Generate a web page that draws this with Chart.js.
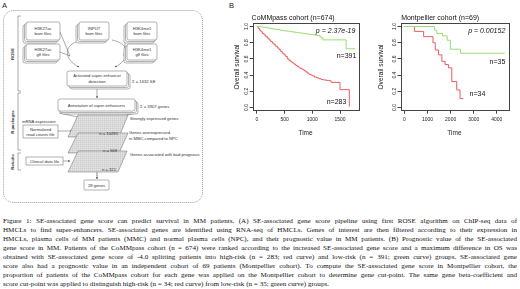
<!DOCTYPE html>
<html>
  <head>
    <title>SE-associated gene score</title>
    <script src="https://cdn.jsdelivr.net/npm/chart.js"></script>
    <style>
      body {
        margin: 0;
        width: 520px;
        height: 289px;
        overflow: hidden;
        background: #fff;
        font-family: "Liberation Sans", Arial, sans-serif;
      }
      .abs {
        position: absolute;
      }
      #flow text {
        font-family: "Liberation Sans", Arial, sans-serif;
        font-size: 4.2px;
        fill: #333;
      }
      #caption {
        position: absolute;
        left: 3px;
        top: 216.5px;
        width: 514px;
        font-family: "Liberation Serif", "Times New Roman", serif;
        font-size: 7.1px;
        color: #111;
      }
      #caption div {
        height: 9px;
        line-height: 9px;
        text-align: justify;
        text-align-last: justify;
        overflow: hidden;
      }
      #caption div.last {
        text-align-last: left;
      }
    </style>
  </head>
  <body>
    <svg id="flow" class="abs" style="left:0;top:0" width="240" height="210"></svg>
    <div class="abs" style="left:228px;top:10px"><canvas id="km1" width="134" height="127"></canvas></div>
    <div class="abs" style="left:372px;top:10px"><canvas id="km2" width="138" height="127"></canvas></div>
    <div id="caption">
      <div>Figure 1: SE-associated gene score can predict survival in MM patients. (A) SE-associated gene score pipeline using first ROSE algorithm on ChIP-seq data of</div>
      <div>HMCLs to find super-enhancers. SE-associated genes are identified using RNA-seq of HMCLs. Genes of interest are then filtered according to their expression in</div>
      <div>HMCLs, plasma cells of MM patients (MMC) and normal plasma cells (NPC), and their prognostic value in MM patients. (B) Prognostic value of the SE-associated</div>
      <div>gene score in MM. Patients of the CoMMpass cohort (n = 674) were ranked according to the increased SE-associated gene score and a maximum difference in OS was</div>
      <div>obtained with SE-associated gene score of -4.0 splitting patients into high-risk (n = 283; red curve) and low-risk (n = 391; green curve) groups. SE-associated gene</div>
      <div>score also had a prognostic value in an independent cohort of 69 patients (Montpellier cohort). To compute the SE-associated gene score in Montpellier cohort, the</div>
      <div>proportion of patients of the CoMMpass cohort for each gene was applied on the Montpellier cohort to determine gene cut-point. The same gene beta-coefficient and</div>
      <div class="last">score cut-point was applied to distinguish high-risk (n = 34; red curve) from low-risk (n = 35; green curve) groups.</div>
    </div>
    <script>
      // CoMMpass cohort, Kaplan-Meier steps (time in days, survival)
      const commpassLowTime = [0, 60, 120, 180, 240, 300, 360, 420, 480, 540, 600, 660, 720, 780, 840, 900, 960, 1020, 1080, 1130, 1160, 1190, 1610, 1775];
      const commpassLowSurv = [1, 0.995, 0.99, 0.983, 0.975, 0.968, 0.962, 0.955, 0.948, 0.942, 0.936, 0.93, 0.925, 0.918, 0.912, 0.906, 0.9, 0.895, 0.89, 0.88, 0.86, 0.835, 0.725, 0.725];
      const commpassHighTime = [0, 25, 50, 75, 100, 130, 160, 190, 220, 250, 280, 310, 340, 370, 400, 430, 460, 490, 520, 550, 580, 610, 640, 670, 700, 730, 760, 790, 820, 850, 880, 910, 940, 970, 1000, 1040, 1080, 1120, 1160, 1200, 1250, 1300, 1340, 1500, 1668];
      const commpassHighSurv = [1, 0.975, 0.955, 0.935, 0.915, 0.895, 0.875, 0.855, 0.835, 0.815, 0.795, 0.775, 0.755, 0.735, 0.715, 0.69, 0.67, 0.65, 0.63, 0.6, 0.58, 0.565, 0.55, 0.535, 0.52, 0.505, 0.49, 0.48, 0.47, 0.455, 0.44, 0.425, 0.41, 0.4, 0.39, 0.375, 0.365, 0.355, 0.345, 0.34, 0.335, 0.33, 0.31, 0.22, 0.01];

      // Montpellier cohort
      const montLowTime = [0, 1300, 1400, 1650, 1850, 1990, 2430, 4350];
      const montLowSurv = [1, 0.957, 0.914, 0.885, 0.83, 0.72, 0.67, 0.67];
      const montHighTime = [0, 430, 830, 1234, 1333, 1476, 1620, 1760, 1906, 2050, 2265, 2408, 2550];
      const montHighSurv = [1, 0.94, 0.875, 0.8, 0.71, 0.65, 0.57, 0.53, 0.49, 0.32, 0.216, 0.11, 0.11];

      const commpassTicks = [0, 500, 1000, 1500];
      const montTicks = [0, 1000, 2000, 3000, 4000];
      const survTicks = [0, 0.2, 0.4, 0.6, 0.8, 1.0];

      const RED = "rgb(234, 92, 100)";
      const GREEN = "rgb(152, 222, 112)";

      // ---- panel A flowchart (plain svg) ----
      let svg = `<defs>
        <pattern id="grid" width="2" height="2" patternUnits="userSpaceOnUse">
          <rect width="2" height="2" fill="#e6e6e6"/>
          <path d="M0 0.5H2M0.5 0V2" stroke="#c2c2c2" stroke-width="0.4"/>
        </pattern>
        <marker id="arr" viewBox="0 0 4 4" refX="3.5" refY="2" markerWidth="4" markerHeight="4" orient="auto">
          <path d="M0 0L4 2L0 4z" fill="#444"/>
        </marker>
      </defs>
      <text x="2" y="8" style="font-size:7.5px;fill:#222">A</text>
      <text x="229" y="8" style="font-size:7.5px;fill:#222">B</text>
      <rect x="3.5" y="10.5" width="199" height="192" rx="10" fill="none" stroke="#777" stroke-width="0.7" stroke-dasharray="1 1"/>`;

      function stack(x, y, w, h, dx, dy, lines) {
        for (let k = 2; k >= 0; k--) {
          svg += `<rect x="${x + dx * k}" y="${y + dy * k}" width="${w}" height="${h}" rx="2" fill="#fff" stroke="#666" stroke-width="0.5"/>`;
        }
        lines.forEach((t, i) => {
          const ty = y + h / 2 + (i - (lines.length - 1) / 2) * 5.4 + 1.5;
          svg += `<text x="${x + w / 2}" y="${ty}" text-anchor="middle">${t}</text>`;
        });
      }

      // arcs and connectors first so boxes sit on top
      svg += `<g fill="none" stroke="#555" stroke-width="0.5">
        <path d="M82 40 C62 44 64 60 79 67" marker-end="url(#arr)"/>
        <path d="M112 40 C132 44 130 60 115 67" marker-end="url(#arr)"/>
        <path d="M60 32 L70 56"/><path d="M60 52 L70 56"/>
        <path d="M126 32 L124 56"/><path d="M126 52 L124 56"/>
        <path d="M97 89 V98" marker-end="url(#arr)"/>
        <path d="M59 113 L97 121 L137 113"/>
        <path d="M97 113 V179" stroke-dasharray="1 1"/>
        <path d="M58 131 H72" marker-end="url(#arr)"/>
        <path d="M63 161 H70" marker-end="url(#arr)"/>
        <path d="M18 16 V91 M18 16 H21 M18 91 H21"/>
        <path d="M18 93 V150 M18 93 H21 M18 150 H21"/>
        <path d="M18 153 V170 M18 153 H21 M18 170 H21"/>
      </g>`;

      stack(26, 22, 34, 18, -1.5, 1.5, ["H3K27ac", "bam files"]);
      stack(79, 22, 30, 18, -1.5, 1.5, ["INPUT", "bam files"]);
      stack(127, 22, 30, 18, -1.5, 1.5, ["H3K4me1", "bam files"]);
      stack(26, 44, 34, 16, -1.5, 1.5, ["H3K27ac", "gff files"]);
      stack(127, 44, 30, 16, -1.5, 1.5, ["H3K4me1", "gff files"]);
      stack(67, 71, 60, 15, 1.5, 1.5, ["Activated super-enhancer", "detection"]);
      stack(58, 99, 77, 12, 1.5, 1.5, ["Annotation of super-enhancers"]);

      svg += `<text x="132" y="83">\u03A3 = 1632 SE</text>
        <text x="140" y="108">\u03A3 = 3907 genes</text>
        <polygon points="78,115 128,115 119,137 68,137" fill="url(#grid)" stroke="#666" stroke-width="0.5"/>
        <polygon points="78,133 128,133 119,153 68,153" fill="url(#grid)" stroke="#666" stroke-width="0.5"/>
        <polygon points="78,151 127,151 118,172 68,172" fill="url(#grid)" stroke="#666" stroke-width="0.5"/>
        <text x="118" y="135" text-anchor="end">n = 10281</text>
        <text x="117" y="151.5" text-anchor="end">n = 568</text>
        <text x="116" y="170.5" text-anchor="end">n = 321</text>
        <text x="130" y="119.5">Strongly expressed genes</text>
        <text x="129" y="133.5">Genes overexpressed</text>
        <text x="129" y="139.5">in MMC compared to NPC</text>
        <text x="130" y="155.5">Genes associated with bad prognosis</text>
        <text x="22" y="123">mRNA expression</text>
        <rect x="23" y="125" width="35" height="13" fill="#fff" stroke="#666" stroke-width="0.5"/>
        <text x="40.5" y="130.5" text-anchor="middle">Normalized</text>
        <text x="40.5" y="136" text-anchor="middle">read counts file</text>
        <rect x="26" y="157" width="37" height="8" fill="#fff" stroke="#666" stroke-width="0.5"/>
        <text x="44.5" y="162.5" text-anchor="middle">Clinical data file</text>
        <path d="M97 172 V179" stroke="#555" stroke-width="0.5" marker-end="url(#arr)"/>
        <rect x="84" y="180" width="25" height="10" rx="1" fill="#fff" stroke="#666" stroke-width="0.5"/>
        <text x="96.5" y="186.5" text-anchor="middle">28 genes</text>
        <text transform="translate(13.5 54) rotate(-90)" text-anchor="middle" style="font-weight:bold">ROSE</text>
        <text transform="translate(13.5 122) rotate(-90)" text-anchor="middle" style="font-weight:bold">R packages</text>
        <text transform="translate(13.5 162) rotate(-90)" text-anchor="middle" style="font-weight:bold">Rstudio</text>`;
      document.getElementById("flow").innerHTML = svg;

      // ---- panel B survival curves ----
      Chart.defaults.font.family = '"Liberation Sans", Arial, sans-serif';
      Chart.defaults.color = "#222";

      const boxPlugin = {
        id: "rbox",
        afterDraw(chart) {
          const a = chart.chartArea;
          const ctx = chart.ctx;
          ctx.save();
          ctx.strokeStyle = "#444";
          ctx.lineWidth = 1;
          ctx.strokeRect(Math.round(a.left) + 0.5, Math.round(a.top) + 0.5, Math.round(a.right - a.left), Math.round(a.bottom - a.top));
          ctx.restore();
        },
      };

      const notesPlugin = {
        id: "notes",
        afterDatasetsDraw(chart, args, opts) {
          const { ctx, scales } = chart;
          ctx.save();
          ctx.fillStyle = "#111";
          ctx.textBaseline = "middle";
          (opts.items || []).forEach(n => {
            ctx.font = (n.italic ? "italic " : "") + '7px "Liberation Sans", Arial, sans-serif';
            ctx.textAlign = n.align;
            ctx.fillText(n.text, scales.x.getPixelForValue(n.x), scales.y.getPixelForValue(n.y));
          });
          ctx.restore();
        },
      };

      function toPoints(times, surv) {
        return times.map((t, i) => ({ x: t, y: surv[i] }));
      }

      function kmChart(id, title, low, high, xMin, xMax, xTicks, yWidth, padRight, notes) {
        return new Chart(document.getElementById(id), {
          type: "line",
          data: {
            datasets: [
              { label: "low-risk", data: low, borderColor: GREEN },
              { label: "high-risk", data: high, borderColor: RED },
            ],
          },
          options: {
            responsive: false,
            animation: false,
            devicePixelRatio: 1,
            layout: { padding: { left: 0, right: padRight, top: 0, bottom: 0 } },
            elements: {
              line: { stepped: true, borderWidth: 1, tension: 0 },
              point: { radius: 0 },
            },
            scales: {
              x: {
                type: "linear",
                min: xMin,
                max: xMax,
                afterBuildTicks: s => { s.ticks = xTicks.map(v => ({ value: v })); },
                afterFit: s => { s.height = 26.3; },
                grid: { drawOnChartArea: false, tickLength: 3, color: "#444" },
                border: { display: false },
                ticks: { font: { size: 5 }, padding: 3, maxRotation: 0, callback: v => String(v) },
                title: { display: true, text: "Time", font: { size: 6.5 }, padding: { top: 1, bottom: 0 } },
              },
              y: {
                min: -0.04,
                max: 1.04,
                afterBuildTicks: s => { s.ticks = survTicks.map(v => ({ value: v })); },
                afterFit: s => { s.width = yWidth; },
                grid: { drawOnChartArea: false, tickLength: 3, color: "#444" },
                border: { display: false },
                ticks: { font: { size: 5 }, padding: -0.5, minRotation: 90, maxRotation: 90, crossAlign: "center", callback: v => v.toFixed(1) },
                title: { display: true, text: "Overall survival", font: { size: 6.6 }, padding: { top: 4.8, bottom: 0 } },
              },
            },
            plugins: {
              legend: { display: false },
              tooltip: { enabled: false },
              title: { display: true, text: title, font: { size: 7, weight: "normal" }, color: "#111", padding: { top: 3.5, bottom: 1.4 } },
              notes: { items: notes },
            },
          },
          plugins: [boxPlugin, notesPlugin],
        });
      }

      kmChart("km1", "CoMMpass cohort (n=674)",
        toPoints(commpassLowTime, commpassLowSurv), toPoints(commpassHighTime, commpassHighSurv),
        -75, 1830, commpassTicks, 24.7, 3.7, [
          { text: "p = 2.37e-19", x: 1777, y: 0.945, align: "right", italic: true },
          { text: "n=391", x: 1795, y: 0.63, align: "right" },
          { text: "n=283", x: 1615, y: 0.07, align: "right" },
        ]);

      kmChart("km2", "Montpellier cohort (n=69)",
        toPoints(montLowTime, montLowSurv), toPoints(montHighTime, montHighSurv),
        -173, 4500, montTicks, 28.5, 1.7, [
          { text: "p = 0.00152", x: 4370, y: 0.94, align: "right", italic: true },
          { text: "n=35", x: 4370, y: 0.56, align: "right" },
          { text: "n=34", x: 2820, y: 0.16, align: "left" },
        ]);
    </script>
  </body>
</html>
